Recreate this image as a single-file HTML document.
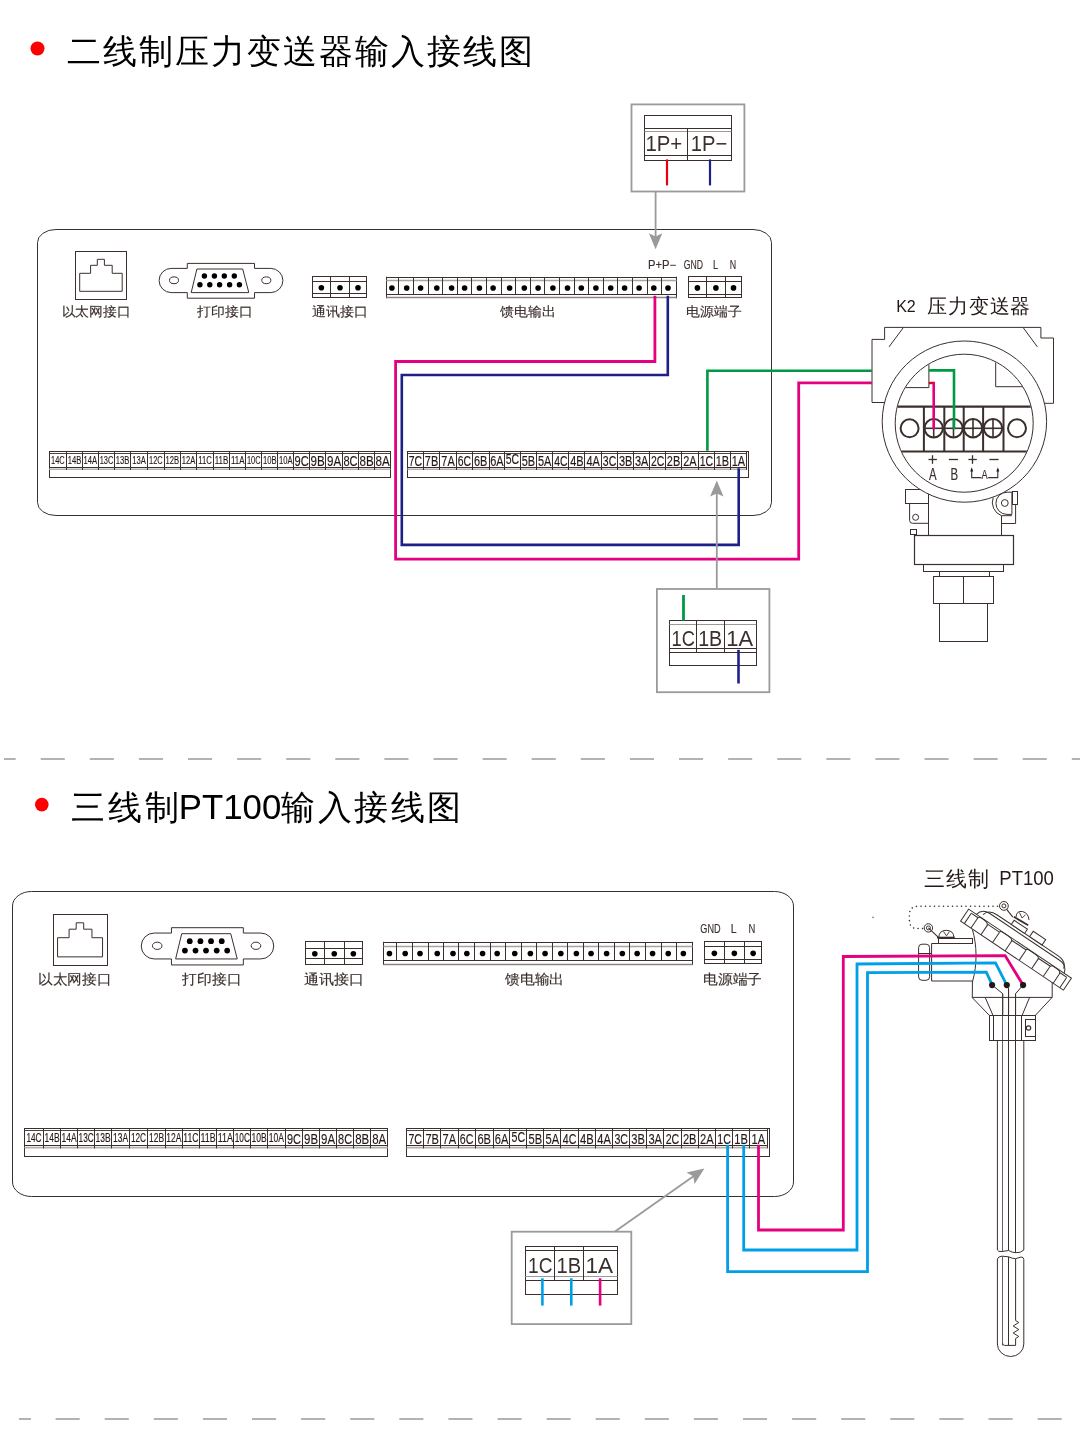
<!DOCTYPE html>
<html><head><meta charset="utf-8"><style>
html,body{margin:0;padding:0;background:#fff;}
svg{display:block;font-family:"Liberation Sans",sans-serif;}
</style></head><body>
<svg style="will-change:transform" width="1080" height="1444" viewBox="0 0 1080 1444" shape-rendering="geometricPrecision">
<circle cx="37.5" cy="48.5" r="7" fill="#ff0000"/>
<text x="66.5" y="62.9" font-size="34.4" fill="#000" text-anchor="start" textLength="466" lengthAdjust="spacing" >二线制压力变送器输入接线图</text>
<rect x="37.5" y="229.5" width="734" height="286" stroke="#3a2f2d" stroke-width="1" fill="none" rx="18.5" ry="13" />
<rect x="75.5" y="251.5" width="51" height="48" stroke="#3a2f2d" stroke-width="1" fill="none" />
<polygon points="79.7,273.3 90.6,273.3 90.6,265.3 97.3,265.3 97.3,259.3 104.4,259.3 104.4,265.3 112.2,265.3 112.2,273.3 122.2,273.3 122.2,291.3 79.7,291.3" stroke="#3a2f2d" stroke-width="1" fill="none" stroke-linejoin="miter" />
<text x="96" y="316" font-size="13.4" fill="#3a2f2d" text-anchor="middle" textLength="69" lengthAdjust="spacingAndGlyphs" stroke="#3a2f2d" stroke-width="0.15" >以太网接口</text>
<path d="M187.3,268.4 L187.3,263.4 L254.5,263.4 L254.5,268.4 L270.8,268.4 A12.1,12.1 0 0 1 270.8,292.6 L254.5,292.6 L254.5,298.2 L187.3,298.2 L187.3,292.6 L171.2,292.6 A12.1,12.1 0 0 1 171.2,268.4 Z" stroke="#3a2f2d" stroke-width="1" fill="none" />
<polygon points="196.9,269 242.7,269 248.8,292.6 191.2,292.6" stroke="#3a2f2d" stroke-width="1" fill="none" stroke-linejoin="miter" />
<ellipse cx="174" cy="280.3" rx="4.5" ry="3.4" stroke="#3a2f2d" stroke-width="1" fill="none"/>
<ellipse cx="266.3" cy="280.3" rx="4.5" ry="3.4" stroke="#3a2f2d" stroke-width="1" fill="none"/>
<circle cx="204.4" cy="276" r="2.7" fill="#000"/>
<circle cx="214.4" cy="276" r="2.7" fill="#000"/>
<circle cx="224.3" cy="276" r="2.7" fill="#000"/>
<circle cx="234.3" cy="276" r="2.7" fill="#000"/>
<circle cx="199.9" cy="284.8" r="2.7" fill="#000"/>
<circle cx="209.8" cy="284.8" r="2.7" fill="#000"/>
<circle cx="219.6" cy="284.8" r="2.7" fill="#000"/>
<circle cx="229.6" cy="284.8" r="2.7" fill="#000"/>
<circle cx="239.4" cy="284.8" r="2.7" fill="#000"/>
<text x="224.8" y="316" font-size="13.4" fill="#3a2f2d" text-anchor="middle" textLength="55.4" lengthAdjust="spacingAndGlyphs" stroke="#3a2f2d" stroke-width="0.15" >打印接口</text>
<rect x="312.5" y="276.5" width="54" height="21" stroke="#3a2f2d" stroke-width="1" fill="none" />
<line x1="312.3" y1="281.5" x2="366.4" y2="281.5" stroke="#3a2f2d" stroke-width="1" />
<line x1="312.3" y1="293.5" x2="366.4" y2="293.5" stroke="#3a2f2d" stroke-width="1" />
<line x1="330.5" y1="276.6" x2="330.5" y2="297.3" stroke="#3a2f2d" stroke-width="1" />
<line x1="349.5" y1="276.6" x2="349.5" y2="297.3" stroke="#3a2f2d" stroke-width="1" />
<circle cx="321.35" cy="287.7" r="2.8" fill="#000"/>
<circle cx="340" cy="287.7" r="2.8" fill="#000"/>
<circle cx="358" cy="287.7" r="2.8" fill="#000"/>
<text x="340" y="316" font-size="13.4" fill="#3a2f2d" text-anchor="middle" textLength="55.9" lengthAdjust="spacingAndGlyphs" stroke="#3a2f2d" stroke-width="0.15" >通讯接口</text>
<line x1="386.3" y1="277.5" x2="676.6" y2="277.5" stroke="#3a2f2d" stroke-width="1" />
<line x1="386.5" y1="276.7" x2="386.5" y2="298.3" stroke="#3a2f2d" stroke-width="1" />
<line x1="676.5" y1="276.7" x2="676.5" y2="298.3" stroke="#3a2f2d" stroke-width="1" />
<line x1="386.3" y1="297.5" x2="676.6" y2="297.5" stroke="#8c8583" stroke-width="1.3" />
<line x1="386.3" y1="280.5" x2="676.6" y2="280.5" stroke="#a9a3a1" stroke-width="1.3" />
<line x1="386.3" y1="294.5" x2="676.6" y2="294.5" stroke="#3a2f2d" stroke-width="1" />
<line x1="398.5" y1="277.2" x2="398.5" y2="294.3" stroke="#3a2f2d" stroke-width="1" />
<line x1="413.5" y1="277.2" x2="413.5" y2="294.3" stroke="#3a2f2d" stroke-width="1" />
<line x1="428.5" y1="277.2" x2="428.5" y2="294.3" stroke="#3a2f2d" stroke-width="1" />
<line x1="442.5" y1="277.2" x2="442.5" y2="294.3" stroke="#3a2f2d" stroke-width="1" />
<line x1="457.5" y1="277.2" x2="457.5" y2="294.3" stroke="#3a2f2d" stroke-width="1" />
<line x1="471.5" y1="277.2" x2="471.5" y2="294.3" stroke="#3a2f2d" stroke-width="1" />
<line x1="486.5" y1="277.2" x2="486.5" y2="294.3" stroke="#3a2f2d" stroke-width="1" />
<line x1="501.5" y1="277.2" x2="501.5" y2="294.3" stroke="#3a2f2d" stroke-width="1" />
<line x1="515.5" y1="277.2" x2="515.5" y2="294.3" stroke="#3a2f2d" stroke-width="1" />
<line x1="530.5" y1="277.2" x2="530.5" y2="294.3" stroke="#3a2f2d" stroke-width="1" />
<line x1="544.5" y1="277.2" x2="544.5" y2="294.3" stroke="#3a2f2d" stroke-width="1" />
<line x1="559.5" y1="277.2" x2="559.5" y2="294.3" stroke="#3a2f2d" stroke-width="1" />
<line x1="574.5" y1="277.2" x2="574.5" y2="294.3" stroke="#3a2f2d" stroke-width="1" />
<line x1="588.5" y1="277.2" x2="588.5" y2="294.3" stroke="#3a2f2d" stroke-width="1" />
<line x1="603.5" y1="277.2" x2="603.5" y2="294.3" stroke="#3a2f2d" stroke-width="1" />
<line x1="617.5" y1="277.2" x2="617.5" y2="294.3" stroke="#3a2f2d" stroke-width="1" />
<line x1="632.5" y1="277.2" x2="632.5" y2="294.3" stroke="#3a2f2d" stroke-width="1" />
<line x1="647.5" y1="277.2" x2="647.5" y2="294.3" stroke="#3a2f2d" stroke-width="1" />
<line x1="661.5" y1="277.2" x2="661.5" y2="294.3" stroke="#3a2f2d" stroke-width="1" />
<circle cx="391.9" cy="287.95" r="2.8" fill="#000"/>
<circle cx="406.7" cy="287.95" r="2.8" fill="#000"/>
<circle cx="420.6" cy="287.95" r="2.8" fill="#000"/>
<circle cx="436.8" cy="287.95" r="2.8" fill="#000"/>
<circle cx="451.6" cy="287.95" r="2.8" fill="#000"/>
<circle cx="464.6" cy="287.95" r="2.8" fill="#000"/>
<circle cx="479.4" cy="287.95" r="2.8" fill="#000"/>
<circle cx="493.1" cy="287.95" r="2.8" fill="#000"/>
<circle cx="509.6" cy="287.95" r="2.8" fill="#000"/>
<circle cx="524.3" cy="287.95" r="2.8" fill="#000"/>
<circle cx="538.1" cy="287.95" r="2.8" fill="#000"/>
<circle cx="552.9" cy="287.95" r="2.8" fill="#000"/>
<circle cx="567.5" cy="287.95" r="2.8" fill="#000"/>
<circle cx="581.3" cy="287.95" r="2.8" fill="#000"/>
<circle cx="595.9" cy="287.95" r="2.8" fill="#000"/>
<circle cx="610.7" cy="287.95" r="2.8" fill="#000"/>
<circle cx="624.6" cy="287.95" r="2.8" fill="#000"/>
<circle cx="639.1" cy="287.95" r="2.8" fill="#000"/>
<circle cx="653.8" cy="287.95" r="2.8" fill="#000"/>
<circle cx="668" cy="287.95" r="2.8" fill="#000"/>
<text x="527.8" y="316" font-size="13.4" fill="#3a2f2d" text-anchor="middle" textLength="55.8" lengthAdjust="spacingAndGlyphs" stroke="#3a2f2d" stroke-width="0.15" >馈电输出</text>
<rect x="688.5" y="276.5" width="53" height="21" stroke="#3a2f2d" stroke-width="1" fill="none" />
<line x1="688.4" y1="281.5" x2="741.6" y2="281.5" stroke="#3a2f2d" stroke-width="1" />
<line x1="688.4" y1="294.5" x2="741.6" y2="294.5" stroke="#3a2f2d" stroke-width="1" />
<line x1="706.5" y1="276.7" x2="706.5" y2="297.5" stroke="#3a2f2d" stroke-width="1" />
<line x1="725.5" y1="276.7" x2="725.5" y2="297.5" stroke="#3a2f2d" stroke-width="1" />
<circle cx="697.4" cy="287.9" r="2.8" fill="#000"/>
<circle cx="715.9" cy="287.9" r="2.8" fill="#000"/>
<circle cx="733.5" cy="287.9" r="2.8" fill="#000"/>
<text x="714.2" y="316" font-size="13.4" fill="#3a2f2d" text-anchor="middle" textLength="55.6" lengthAdjust="spacingAndGlyphs" stroke="#3a2f2d" stroke-width="0.15" >电源端子</text>
<text x="648" y="268.7" font-size="12" fill="#3a2f2d" text-anchor="start" textLength="28" lengthAdjust="spacingAndGlyphs" stroke="#3a2f2d" stroke-width="0.15" >P+P−</text>
<text x="683.8" y="268.7" font-size="12" fill="#3a2f2d" text-anchor="start" textLength="19.2" lengthAdjust="spacingAndGlyphs" stroke="#3a2f2d" stroke-width="0.15" >GND</text>
<text x="712.9" y="268.7" font-size="12" fill="#3a2f2d" text-anchor="start" textLength="5.1" lengthAdjust="spacingAndGlyphs" stroke="#3a2f2d" stroke-width="0.15" >L</text>
<text x="729.8" y="268.7" font-size="12" fill="#3a2f2d" text-anchor="start" textLength="6.4" lengthAdjust="spacingAndGlyphs" stroke="#3a2f2d" stroke-width="0.15" >N</text>
<rect x="49.5" y="451.5" width="341" height="26" stroke="#3a2f2d" stroke-width="1" fill="none" />
<line x1="49.2" y1="453.5" x2="390.4" y2="453.5" stroke="#3a2f2d" stroke-width="0.9" />
<line x1="49.2" y1="467.5" x2="390.4" y2="467.5" stroke="#3a2f2d" stroke-width="1" />
<line x1="49.2" y1="469.2" x2="390.4" y2="469.2" stroke="#b5b0ae" stroke-width="1.6" />
<line x1="66.5" y1="451.3" x2="66.5" y2="470" stroke="#3a2f2d" stroke-width="1" />
<line x1="82.5" y1="451.3" x2="82.5" y2="470" stroke="#3a2f2d" stroke-width="1" />
<line x1="98.5" y1="451.3" x2="98.5" y2="470" stroke="#3a2f2d" stroke-width="1" />
<line x1="114.5" y1="451.3" x2="114.5" y2="470" stroke="#3a2f2d" stroke-width="1" />
<line x1="130.5" y1="451.3" x2="130.5" y2="470" stroke="#3a2f2d" stroke-width="1" />
<line x1="147.5" y1="451.3" x2="147.5" y2="470" stroke="#3a2f2d" stroke-width="1" />
<line x1="164.5" y1="451.3" x2="164.5" y2="470" stroke="#3a2f2d" stroke-width="1" />
<line x1="180.5" y1="451.3" x2="180.5" y2="470" stroke="#3a2f2d" stroke-width="1" />
<line x1="196.5" y1="451.3" x2="196.5" y2="470" stroke="#3a2f2d" stroke-width="1" />
<line x1="213.5" y1="451.3" x2="213.5" y2="470" stroke="#3a2f2d" stroke-width="1" />
<line x1="229.5" y1="451.3" x2="229.5" y2="470" stroke="#3a2f2d" stroke-width="1" />
<line x1="245.5" y1="451.3" x2="245.5" y2="470" stroke="#3a2f2d" stroke-width="1" />
<line x1="261.5" y1="451.3" x2="261.5" y2="470" stroke="#3a2f2d" stroke-width="1" />
<line x1="277.5" y1="451.3" x2="277.5" y2="470" stroke="#3a2f2d" stroke-width="1" />
<line x1="293.5" y1="451.3" x2="293.5" y2="470" stroke="#3a2f2d" stroke-width="1" />
<line x1="309.5" y1="451.3" x2="309.5" y2="470" stroke="#3a2f2d" stroke-width="1" />
<line x1="325.5" y1="451.3" x2="325.5" y2="470" stroke="#3a2f2d" stroke-width="1" />
<line x1="342.5" y1="451.3" x2="342.5" y2="470" stroke="#3a2f2d" stroke-width="1" />
<line x1="358.5" y1="451.3" x2="358.5" y2="470" stroke="#3a2f2d" stroke-width="1" />
<line x1="374.5" y1="451.3" x2="374.5" y2="470" stroke="#3a2f2d" stroke-width="1" />
<text x="57.85" y="463.9" font-size="11.7" fill="#231815" text-anchor="middle" textLength="13.6" lengthAdjust="spacingAndGlyphs" stroke="#231815" stroke-width="0.15" >14C</text>
<text x="74.45" y="463.9" font-size="11.7" fill="#231815" text-anchor="middle" textLength="13.6" lengthAdjust="spacingAndGlyphs" stroke="#231815" stroke-width="0.15" >14B</text>
<text x="90.35" y="463.9" font-size="11.7" fill="#231815" text-anchor="middle" textLength="13.6" lengthAdjust="spacingAndGlyphs" stroke="#231815" stroke-width="0.15" >14A</text>
<text x="106.45" y="463.9" font-size="11.7" fill="#231815" text-anchor="middle" textLength="13.6" lengthAdjust="spacingAndGlyphs" stroke="#231815" stroke-width="0.15" >13C</text>
<text x="122.65" y="463.9" font-size="11.7" fill="#231815" text-anchor="middle" textLength="13.6" lengthAdjust="spacingAndGlyphs" stroke="#231815" stroke-width="0.15" >13B</text>
<text x="139.05" y="463.9" font-size="11.7" fill="#231815" text-anchor="middle" textLength="13.6" lengthAdjust="spacingAndGlyphs" stroke="#231815" stroke-width="0.15" >13A</text>
<text x="155.9" y="463.9" font-size="11.7" fill="#231815" text-anchor="middle" textLength="13.6" lengthAdjust="spacingAndGlyphs" stroke="#231815" stroke-width="0.15" >12C</text>
<text x="172.4" y="463.9" font-size="11.7" fill="#231815" text-anchor="middle" textLength="13.6" lengthAdjust="spacingAndGlyphs" stroke="#231815" stroke-width="0.15" >12B</text>
<text x="188.5" y="463.9" font-size="11.7" fill="#231815" text-anchor="middle" textLength="13.6" lengthAdjust="spacingAndGlyphs" stroke="#231815" stroke-width="0.15" >12A</text>
<text x="205" y="463.9" font-size="11.7" fill="#231815" text-anchor="middle" textLength="13.6" lengthAdjust="spacingAndGlyphs" stroke="#231815" stroke-width="0.15" >11C</text>
<text x="221.55" y="463.9" font-size="11.7" fill="#231815" text-anchor="middle" textLength="13.6" lengthAdjust="spacingAndGlyphs" stroke="#231815" stroke-width="0.15" >11B</text>
<text x="237.75" y="463.9" font-size="11.7" fill="#231815" text-anchor="middle" textLength="13.6" lengthAdjust="spacingAndGlyphs" stroke="#231815" stroke-width="0.15" >11A</text>
<text x="253.8" y="463.9" font-size="11.7" fill="#231815" text-anchor="middle" textLength="13.6" lengthAdjust="spacingAndGlyphs" stroke="#231815" stroke-width="0.15" >10C</text>
<text x="269.8" y="463.9" font-size="11.7" fill="#231815" text-anchor="middle" textLength="13.6" lengthAdjust="spacingAndGlyphs" stroke="#231815" stroke-width="0.15" >10B</text>
<text x="285.8" y="463.9" font-size="11.7" fill="#231815" text-anchor="middle" textLength="13.6" lengthAdjust="spacingAndGlyphs" stroke="#231815" stroke-width="0.15" >10A</text>
<text x="301.7" y="465.8" font-size="14" fill="#231815" text-anchor="middle" textLength="14.2" lengthAdjust="spacingAndGlyphs" stroke="#231815" stroke-width="0.15" >9C</text>
<text x="317.6" y="465.8" font-size="14" fill="#231815" text-anchor="middle" textLength="14.2" lengthAdjust="spacingAndGlyphs" stroke="#231815" stroke-width="0.15" >9B</text>
<text x="334.1" y="465.8" font-size="14" fill="#231815" text-anchor="middle" textLength="14.2" lengthAdjust="spacingAndGlyphs" stroke="#231815" stroke-width="0.15" >9A</text>
<text x="350.55" y="465.8" font-size="14" fill="#231815" text-anchor="middle" textLength="14.2" lengthAdjust="spacingAndGlyphs" stroke="#231815" stroke-width="0.15" >8C</text>
<text x="366.65" y="465.8" font-size="14" fill="#231815" text-anchor="middle" textLength="14.2" lengthAdjust="spacingAndGlyphs" stroke="#231815" stroke-width="0.15" >8B</text>
<text x="382.6" y="465.8" font-size="14" fill="#231815" text-anchor="middle" textLength="14.2" lengthAdjust="spacingAndGlyphs" stroke="#231815" stroke-width="0.15" >8A</text>
<rect x="407.5" y="451.5" width="341" height="26" stroke="#3a2f2d" stroke-width="1" fill="none" />
<line x1="407.4" y1="453.5" x2="746.3" y2="453.5" stroke="#3a2f2d" stroke-width="0.9" />
<line x1="407.4" y1="467.5" x2="746.3" y2="467.5" stroke="#3a2f2d" stroke-width="1" />
<line x1="407.4" y1="469.2" x2="746.3" y2="469.2" stroke="#b5b0ae" stroke-width="1.6" />
<line x1="746.5" y1="451.3" x2="746.5" y2="470" stroke="#3a2f2d" stroke-width="1" />
<line x1="423.5" y1="451.3" x2="423.5" y2="470" stroke="#3a2f2d" stroke-width="1" />
<line x1="439.5" y1="451.3" x2="439.5" y2="470" stroke="#3a2f2d" stroke-width="1" />
<line x1="456.5" y1="451.3" x2="456.5" y2="470" stroke="#3a2f2d" stroke-width="1" />
<line x1="472.5" y1="451.3" x2="472.5" y2="470" stroke="#3a2f2d" stroke-width="1" />
<line x1="489.5" y1="451.3" x2="489.5" y2="470" stroke="#3a2f2d" stroke-width="1" />
<line x1="504.5" y1="451.3" x2="504.5" y2="470" stroke="#3a2f2d" stroke-width="1" />
<line x1="520.5" y1="451.3" x2="520.5" y2="470" stroke="#3a2f2d" stroke-width="1" />
<line x1="536.5" y1="451.3" x2="536.5" y2="470" stroke="#3a2f2d" stroke-width="1" />
<line x1="552.5" y1="451.3" x2="552.5" y2="470" stroke="#3a2f2d" stroke-width="1" />
<line x1="568.5" y1="451.3" x2="568.5" y2="470" stroke="#3a2f2d" stroke-width="1" />
<line x1="584.5" y1="451.3" x2="584.5" y2="470" stroke="#3a2f2d" stroke-width="1" />
<line x1="601.5" y1="451.3" x2="601.5" y2="470" stroke="#3a2f2d" stroke-width="1" />
<line x1="617.5" y1="451.3" x2="617.5" y2="470" stroke="#3a2f2d" stroke-width="1" />
<line x1="633.5" y1="451.3" x2="633.5" y2="470" stroke="#3a2f2d" stroke-width="1" />
<line x1="649.5" y1="451.3" x2="649.5" y2="470" stroke="#3a2f2d" stroke-width="1" />
<line x1="665.5" y1="451.3" x2="665.5" y2="470" stroke="#3a2f2d" stroke-width="1" />
<line x1="681.5" y1="451.3" x2="681.5" y2="470" stroke="#3a2f2d" stroke-width="1" />
<line x1="698.5" y1="451.3" x2="698.5" y2="470" stroke="#3a2f2d" stroke-width="1" />
<line x1="714.5" y1="451.3" x2="714.5" y2="470" stroke="#3a2f2d" stroke-width="1" />
<line x1="730.5" y1="451.3" x2="730.5" y2="470" stroke="#3a2f2d" stroke-width="1" />
<text x="415.4" y="465.8" font-size="14" fill="#231815" text-anchor="middle" textLength="13.4" lengthAdjust="spacingAndGlyphs" stroke="#231815" stroke-width="0.15" >7C</text>
<text x="431.5" y="465.8" font-size="14" fill="#231815" text-anchor="middle" textLength="13.4" lengthAdjust="spacingAndGlyphs" stroke="#231815" stroke-width="0.15" >7B</text>
<text x="448.05" y="465.8" font-size="14" fill="#231815" text-anchor="middle" textLength="13.4" lengthAdjust="spacingAndGlyphs" stroke="#231815" stroke-width="0.15" >7A</text>
<text x="464.35" y="465.8" font-size="14" fill="#231815" text-anchor="middle" textLength="13.4" lengthAdjust="spacingAndGlyphs" stroke="#231815" stroke-width="0.15" >6C</text>
<text x="480.7" y="465.8" font-size="14" fill="#231815" text-anchor="middle" textLength="13.4" lengthAdjust="spacingAndGlyphs" stroke="#231815" stroke-width="0.15" >6B</text>
<text x="496.85" y="465.8" font-size="14" fill="#231815" text-anchor="middle" textLength="13.4" lengthAdjust="spacingAndGlyphs" stroke="#231815" stroke-width="0.15" >6A</text>
<text x="512.4" y="463.8" font-size="14" fill="#231815" text-anchor="middle" textLength="13.4" lengthAdjust="spacingAndGlyphs" stroke="#231815" stroke-width="0.15" >5C</text>
<text x="528.35" y="465.8" font-size="14" fill="#231815" text-anchor="middle" textLength="13.4" lengthAdjust="spacingAndGlyphs" stroke="#231815" stroke-width="0.15" >5B</text>
<text x="544.65" y="465.8" font-size="14" fill="#231815" text-anchor="middle" textLength="13.4" lengthAdjust="spacingAndGlyphs" stroke="#231815" stroke-width="0.15" >5A</text>
<text x="560.9" y="465.8" font-size="14" fill="#231815" text-anchor="middle" textLength="13.4" lengthAdjust="spacingAndGlyphs" stroke="#231815" stroke-width="0.15" >4C</text>
<text x="576.9" y="465.8" font-size="14" fill="#231815" text-anchor="middle" textLength="13.4" lengthAdjust="spacingAndGlyphs" stroke="#231815" stroke-width="0.15" >4B</text>
<text x="593.2" y="465.8" font-size="14" fill="#231815" text-anchor="middle" textLength="13.4" lengthAdjust="spacingAndGlyphs" stroke="#231815" stroke-width="0.15" >4A</text>
<text x="609.55" y="465.8" font-size="14" fill="#231815" text-anchor="middle" textLength="13.4" lengthAdjust="spacingAndGlyphs" stroke="#231815" stroke-width="0.15" >3C</text>
<text x="625.6" y="465.8" font-size="14" fill="#231815" text-anchor="middle" textLength="13.4" lengthAdjust="spacingAndGlyphs" stroke="#231815" stroke-width="0.15" >3B</text>
<text x="641.7" y="465.8" font-size="14" fill="#231815" text-anchor="middle" textLength="13.4" lengthAdjust="spacingAndGlyphs" stroke="#231815" stroke-width="0.15" >3A</text>
<text x="657.7" y="465.8" font-size="14" fill="#231815" text-anchor="middle" textLength="13.4" lengthAdjust="spacingAndGlyphs" stroke="#231815" stroke-width="0.15" >2C</text>
<text x="673.55" y="465.8" font-size="14" fill="#231815" text-anchor="middle" textLength="13.4" lengthAdjust="spacingAndGlyphs" stroke="#231815" stroke-width="0.15" >2B</text>
<text x="689.95" y="465.8" font-size="14" fill="#231815" text-anchor="middle" textLength="13.4" lengthAdjust="spacingAndGlyphs" stroke="#231815" stroke-width="0.15" >2A</text>
<text x="706.4" y="465.8" font-size="14" fill="#231815" text-anchor="middle" textLength="13.4" lengthAdjust="spacingAndGlyphs" stroke="#231815" stroke-width="0.15" >1C</text>
<text x="722.4" y="465.8" font-size="14" fill="#231815" text-anchor="middle" textLength="13.4" lengthAdjust="spacingAndGlyphs" stroke="#231815" stroke-width="0.15" >1B</text>
<text x="738.35" y="465.8" font-size="14" fill="#231815" text-anchor="middle" textLength="13.4" lengthAdjust="spacingAndGlyphs" stroke="#231815" stroke-width="0.15" >1A</text>
<rect x="631.5" y="104.4" width="112.9" height="87.1" stroke="#9a9a9a" stroke-width="1.8" fill="none" />
<rect x="644.5" y="115.5" width="87" height="45" stroke="#3a2f2d" stroke-width="1" fill="none" />
<line x1="644.4" y1="128.5" x2="731.5" y2="128.5" stroke="#3a2f2d" stroke-width="1" />
<line x1="644.4" y1="131.5" x2="731.5" y2="131.5" stroke="#9a9a9a" stroke-width="1" />
<line x1="644.4" y1="155.5" x2="731.5" y2="155.5" stroke="#3a2f2d" stroke-width="1" />
<line x1="687.5" y1="128.5" x2="687.5" y2="160.4" stroke="#3a2f2d" stroke-width="1" />
<text x="645.4" y="151.1" font-size="21.4" fill="#3a2f2d" text-anchor="start" textLength="36.8" lengthAdjust="spacingAndGlyphs" >1P+</text>
<text x="690.8" y="151.1" font-size="21.4" fill="#3a2f2d" text-anchor="start" textLength="36.4" lengthAdjust="spacingAndGlyphs" >1P−</text>
<line x1="667" y1="159.4" x2="667" y2="185.4" stroke="#e60012" stroke-width="2.2" />
<line x1="710" y1="159.4" x2="710" y2="185.4" stroke="#1d2088" stroke-width="2.2" />
<line x1="655.6" y1="191.5" x2="655.6" y2="240" stroke="#9a9a9a" stroke-width="1.8" />
<g transform="translate(655.6,249.3) rotate(90)"><path d="M0,0 L-16,-6.7 L-12.8,0 L-16,6.7 Z" fill="#9a9a9a"/></g>
<polyline points="654.9,295.7 654.9,361.5 395.6,361.5 395.6,559.2 798.7,559.2 798.7,382.8 871.7,382.8" stroke="#e4007f" stroke-width="2.8" fill="none" stroke-linejoin="miter" stroke-linecap="butt"/>
<polyline points="667.8,295.7 667.8,375 401.8,375 401.8,544.9 738.7,544.9 738.7,468.2" stroke="#1d2088" stroke-width="2.6" fill="none" stroke-linejoin="miter" stroke-linecap="butt"/>
<polyline points="707.4,450.7 707.4,370.8 871.7,370.8" stroke="#009944" stroke-width="2.6" fill="none" stroke-linejoin="miter" stroke-linecap="butt"/>
<rect x="656.9" y="589" width="112.5" height="103.2" stroke="#9a9a9a" stroke-width="1.8" fill="none" />
<rect x="669.5" y="620.5" width="87" height="45" stroke="#3a2f2d" stroke-width="1" fill="none" />
<line x1="669.5" y1="624.5" x2="756.2" y2="624.5" stroke="#9a9a9a" stroke-width="1" />
<line x1="669.5" y1="648.5" x2="756.2" y2="648.5" stroke="#3a2f2d" stroke-width="1" />
<line x1="669.5" y1="652.5" x2="756.2" y2="652.5" stroke="#3a2f2d" stroke-width="1" />
<line x1="696.5" y1="620.6" x2="696.5" y2="652.2" stroke="#3a2f2d" stroke-width="1" />
<line x1="724.5" y1="620.6" x2="724.5" y2="652.2" stroke="#3a2f2d" stroke-width="1" />
<text x="671.5" y="645.6" font-size="21.8" fill="#3a2f2d" text-anchor="start" textLength="23.4" lengthAdjust="spacingAndGlyphs" >1C</text>
<text x="698.2" y="645.6" font-size="21.8" fill="#3a2f2d" text-anchor="start" textLength="24" lengthAdjust="spacingAndGlyphs" >1B</text>
<text x="726.3" y="645.6" font-size="21.8" fill="#3a2f2d" text-anchor="start" textLength="26.8" lengthAdjust="spacingAndGlyphs" >1A</text>
<line x1="683.5" y1="595" x2="683.5" y2="620.6" stroke="#009944" stroke-width="2.8" />
<line x1="738.5" y1="649.8" x2="738.5" y2="683.5" stroke="#1d2088" stroke-width="2.6" />
<line x1="716.8" y1="589" x2="716.8" y2="492" stroke="#9a9a9a" stroke-width="1.8" />
<g transform="translate(716.8,480.6) rotate(-90)"><path d="M0,0 L-16,-6.7 L-12.8,0 L-16,6.7 Z" fill="#9a9a9a"/></g>
<text x="896.2" y="311.5" font-size="17" fill="#231815" text-anchor="start" textLength="19.6" lengthAdjust="spacingAndGlyphs" >K2</text>
<text x="927.3" y="313.4" font-size="20" fill="#231815" text-anchor="start" textLength="103" lengthAdjust="spacing" >压力变送器</text>
<line x1="928.5" y1="480" x2="928.5" y2="535.6" stroke="#3a2f2d" stroke-width="1" />
<line x1="1001.5" y1="480" x2="1001.5" y2="535.6" stroke="#3a2f2d" stroke-width="1" />
<rect x="905.5" y="489.5" width="23" height="14" stroke="#3a2f2d" stroke-width="1" fill="#fff" />
<path d="M909.6,503.7 L909.6,520.3 Q909.6,523.3 912.6,523.3 L928.1,523.3" stroke="#3a2f2d" stroke-width="1" fill="none" />
<circle cx="915.6" cy="517.3" r="3" stroke="#3a2f2d" stroke-width="1" fill="none"/>
<rect x="910.5" y="529.5" width="6" height="5" stroke="#3a2f2d" stroke-width="1" fill="none" />
<path d="M1001.4,523.5 L1015.6,523.5 L1015.6,504.4" stroke="#3a2f2d" stroke-width="1" fill="none" />
<path d="M993.2,497.5 A14.2,14.2 0 0 0 1001.5,515.7 L1011.9,515.7" stroke="#3a2f2d" stroke-width="1" fill="#fff" />
<path d="M1011.9,492.2 L1007,492.2 A11.1,11.1 0 0 0 1007,514.4 L1011.9,514.4 Z" stroke="#3a2f2d" stroke-width="1" fill="#fff" />
<circle cx="1004.8" cy="503" r="3.4" stroke="#3a2f2d" stroke-width="1" fill="none"/>
<rect x="1012.5" y="491.5" width="5" height="13" stroke="#3a2f2d" stroke-width="1" fill="#fff" />
<rect x="914.5" y="535.5" width="99" height="29" stroke="#3a2f2d" stroke-width="1.2" fill="none" />
<rect x="923.5" y="564.5" width="80" height="7" stroke="#3a2f2d" stroke-width="1" fill="none" />
<rect x="939.5" y="571.5" width="50" height="5" stroke="#3a2f2d" stroke-width="1" fill="none" />
<rect x="933.5" y="576.5" width="60" height="27" stroke="#3a2f2d" stroke-width="1" fill="none" />
<line x1="963.5" y1="576.3" x2="963.5" y2="603" stroke="#3a2f2d" stroke-width="1" />
<rect x="939.5" y="603.5" width="48" height="38" stroke="#3a2f2d" stroke-width="1" fill="none" />
<polyline points="872,402.4 872,339.4 884.6,339.4 884.6,327.4 1040.9,327.4 1040.9,338 1053.5,338 1053.5,403.3 1040,403.3" stroke="#3a2f2d" stroke-width="1" fill="#fff" stroke-linejoin="miter" />
<line x1="872" y1="402.5" x2="886" y2="402.5" stroke="#3a2f2d" stroke-width="1" />
<line x1="903.5" y1="327.4" x2="889" y2="346.9" stroke="#3a2f2d" stroke-width="1" />
<line x1="1023" y1="327.4" x2="1037.4" y2="346.9" stroke="#3a2f2d" stroke-width="1" />
<ellipse cx="964.4" cy="421.6" rx="82.2" ry="80.6" stroke="#3a2f2d" stroke-width="1" fill="#fff"/>
<circle cx="964.2" cy="423.2" r="69" stroke="#3a2f2d" stroke-width="1" fill="#fff"/>
<clipPath id="ic"><circle cx="964.2" cy="423.2" r="68.5"/></clipPath>
<g clip-path="url(#ic)">
<polyline points="928.9,364.4 928.9,387.6 895,387.6" stroke="#3a2f2d" stroke-width="1" fill="none" stroke-linejoin="miter" />
<polyline points="995.7,361.7 995.7,386.7 1035,386.7" stroke="#3a2f2d" stroke-width="1" fill="none" stroke-linejoin="miter" />
<line x1="890" y1="406.7" x2="1040" y2="406.7" stroke="#3a2f2d" stroke-width="2.2" />
<line x1="890" y1="451.5" x2="1040" y2="451.5" stroke="#3a2f2d" stroke-width="2.2" />
<line x1="923.9" y1="406.7" x2="923.9" y2="451.5" stroke="#3a2f2d" stroke-width="2" />
<line x1="944.3" y1="406.7" x2="944.3" y2="451.5" stroke="#3a2f2d" stroke-width="2" />
<line x1="963.7" y1="406.7" x2="963.7" y2="451.5" stroke="#3a2f2d" stroke-width="2" />
<line x1="983.1" y1="406.7" x2="983.1" y2="451.5" stroke="#3a2f2d" stroke-width="2" />
<line x1="1003.5" y1="406.7" x2="1003.5" y2="451.5" stroke="#3a2f2d" stroke-width="2" />
</g>
<circle cx="933.7" cy="428.3" r="9.2" stroke="#3a2f2d" stroke-width="2" fill="#fff"/>
<line x1="924.5" y1="428.3" x2="942.9" y2="428.3" stroke="#3a2f2d" stroke-width="1.6" />
<line x1="933.7" y1="419.1" x2="933.7" y2="437.5" stroke="#3a2f2d" stroke-width="1.6" />
<circle cx="953.5" cy="428.3" r="9.2" stroke="#3a2f2d" stroke-width="2" fill="#fff"/>
<line x1="944.3" y1="428.3" x2="962.7" y2="428.3" stroke="#3a2f2d" stroke-width="1.6" />
<line x1="953.5" y1="419.1" x2="953.5" y2="437.5" stroke="#3a2f2d" stroke-width="1.6" />
<circle cx="973" cy="428.3" r="9.2" stroke="#3a2f2d" stroke-width="2" fill="#fff"/>
<line x1="963.8" y1="428.3" x2="982.2" y2="428.3" stroke="#3a2f2d" stroke-width="1.6" />
<line x1="973" y1="419.1" x2="973" y2="437.5" stroke="#3a2f2d" stroke-width="1.6" />
<circle cx="993" cy="428.3" r="9.2" stroke="#3a2f2d" stroke-width="2" fill="#fff"/>
<line x1="983.8" y1="428.3" x2="1002.2" y2="428.3" stroke="#3a2f2d" stroke-width="1.6" />
<line x1="993" y1="419.1" x2="993" y2="437.5" stroke="#3a2f2d" stroke-width="1.6" />
<circle cx="909.6" cy="428.3" r="9" stroke="#3a2f2d" stroke-width="2" fill="#fff"/>
<circle cx="1017" cy="428.3" r="9" stroke="#3a2f2d" stroke-width="2" fill="#fff"/>
<line x1="928.9" y1="383" x2="934" y2="383" stroke="#e60012" stroke-width="2.4" />
<polyline points="933.7,381.8 933.7,429.3" stroke="#e4007f" stroke-width="2.6" fill="none" stroke-linejoin="miter" stroke-linecap="butt"/>
<polyline points="928.9,370.4 954,370.4 954,429.3" stroke="#009944" stroke-width="2.6" fill="none" stroke-linejoin="miter" stroke-linecap="butt"/>
<line x1="928.5" y1="459.5" x2="936.9" y2="459.5" stroke="#3a2f2d" stroke-width="1.3" />
<line x1="932.5" y1="455.2" x2="932.5" y2="463.8" stroke="#3a2f2d" stroke-width="1.3" />
<line x1="968.4" y1="459.5" x2="976.8" y2="459.5" stroke="#3a2f2d" stroke-width="1.3" />
<line x1="972.5" y1="455.2" x2="972.5" y2="463.8" stroke="#3a2f2d" stroke-width="1.3" />
<line x1="948.8" y1="459.5" x2="958" y2="459.5" stroke="#3a2f2d" stroke-width="1.3" />
<line x1="989.4" y1="459.5" x2="998.6" y2="459.5" stroke="#3a2f2d" stroke-width="1.3" />
<text x="932.8" y="479.8" font-size="16" fill="#3a2f2d" text-anchor="middle" textLength="7.6" lengthAdjust="spacingAndGlyphs" stroke="#3a2f2d" stroke-width="0.15" >A</text>
<text x="954.4" y="479.8" font-size="16" fill="#3a2f2d" text-anchor="middle" textLength="7.6" lengthAdjust="spacingAndGlyphs" stroke="#3a2f2d" stroke-width="0.15" >B</text>
<text x="984.7" y="479.4" font-size="13.6" fill="#3a2f2d" text-anchor="middle" textLength="6.2" lengthAdjust="spacingAndGlyphs" stroke="#3a2f2d" stroke-width="0.15" >A</text>
<polyline points="971.7,469.5 971.7,477.6 981.3,477.6" stroke="#3a2f2d" stroke-width="1.1" fill="none" stroke-linejoin="miter" />
<polyline points="988.2,477.6 997.8,477.6 997.8,469.5" stroke="#3a2f2d" stroke-width="1.1" fill="none" stroke-linejoin="miter" />
<path d="M970.2,471.5 L971.7,467.2 L973.2,471.5 Z" fill="#231815"/>
<path d="M996.3,471.5 L997.8,467.2 L999.3,471.5 Z" fill="#231815"/>
<line x1="4" y1="759" x2="15.7" y2="759" stroke="#a0a0a0" stroke-width="1.6" />
<line x1="40.7" y1="759" x2="64.8" y2="759" stroke="#a0a0a0" stroke-width="1.6" />
<line x1="89.8" y1="759" x2="113.9" y2="759" stroke="#a0a0a0" stroke-width="1.6" />
<line x1="138.9" y1="759" x2="163" y2="759" stroke="#a0a0a0" stroke-width="1.6" />
<line x1="188" y1="759" x2="212.1" y2="759" stroke="#a0a0a0" stroke-width="1.6" />
<line x1="237.1" y1="759" x2="261.2" y2="759" stroke="#a0a0a0" stroke-width="1.6" />
<line x1="286.2" y1="759" x2="310.3" y2="759" stroke="#a0a0a0" stroke-width="1.6" />
<line x1="335.3" y1="759" x2="359.4" y2="759" stroke="#a0a0a0" stroke-width="1.6" />
<line x1="384.4" y1="759" x2="408.5" y2="759" stroke="#a0a0a0" stroke-width="1.6" />
<line x1="433.5" y1="759" x2="457.6" y2="759" stroke="#a0a0a0" stroke-width="1.6" />
<line x1="482.6" y1="759" x2="506.7" y2="759" stroke="#a0a0a0" stroke-width="1.6" />
<line x1="531.7" y1="759" x2="555.8" y2="759" stroke="#a0a0a0" stroke-width="1.6" />
<line x1="580.8" y1="759" x2="604.9" y2="759" stroke="#a0a0a0" stroke-width="1.6" />
<line x1="629.9" y1="759" x2="654" y2="759" stroke="#a0a0a0" stroke-width="1.6" />
<line x1="679" y1="759" x2="703.1" y2="759" stroke="#a0a0a0" stroke-width="1.6" />
<line x1="728.1" y1="759" x2="752.2" y2="759" stroke="#a0a0a0" stroke-width="1.6" />
<line x1="777.2" y1="759" x2="801.3" y2="759" stroke="#a0a0a0" stroke-width="1.6" />
<line x1="826.3" y1="759" x2="850.4" y2="759" stroke="#a0a0a0" stroke-width="1.6" />
<line x1="875.4" y1="759" x2="899.5" y2="759" stroke="#a0a0a0" stroke-width="1.6" />
<line x1="924.5" y1="759" x2="948.6" y2="759" stroke="#a0a0a0" stroke-width="1.6" />
<line x1="973.6" y1="759" x2="997.7" y2="759" stroke="#a0a0a0" stroke-width="1.6" />
<line x1="1022.7" y1="759" x2="1046.8" y2="759" stroke="#a0a0a0" stroke-width="1.6" />
<line x1="1071.8" y1="759" x2="1080" y2="759" stroke="#a0a0a0" stroke-width="1.6" />
<line x1="18.9" y1="1419" x2="30.9" y2="1419" stroke="#a0a0a0" stroke-width="1.6" />
<line x1="55.6" y1="1419" x2="79.7" y2="1419" stroke="#a0a0a0" stroke-width="1.6" />
<line x1="104.7" y1="1419" x2="128.8" y2="1419" stroke="#a0a0a0" stroke-width="1.6" />
<line x1="153.8" y1="1419" x2="177.9" y2="1419" stroke="#a0a0a0" stroke-width="1.6" />
<line x1="202.9" y1="1419" x2="227" y2="1419" stroke="#a0a0a0" stroke-width="1.6" />
<line x1="252" y1="1419" x2="276.1" y2="1419" stroke="#a0a0a0" stroke-width="1.6" />
<line x1="301.1" y1="1419" x2="325.2" y2="1419" stroke="#a0a0a0" stroke-width="1.6" />
<line x1="350.2" y1="1419" x2="374.3" y2="1419" stroke="#a0a0a0" stroke-width="1.6" />
<line x1="399.3" y1="1419" x2="423.4" y2="1419" stroke="#a0a0a0" stroke-width="1.6" />
<line x1="448.4" y1="1419" x2="472.5" y2="1419" stroke="#a0a0a0" stroke-width="1.6" />
<line x1="497.5" y1="1419" x2="521.6" y2="1419" stroke="#a0a0a0" stroke-width="1.6" />
<line x1="546.6" y1="1419" x2="570.7" y2="1419" stroke="#a0a0a0" stroke-width="1.6" />
<line x1="595.7" y1="1419" x2="619.8" y2="1419" stroke="#a0a0a0" stroke-width="1.6" />
<line x1="644.8" y1="1419" x2="668.9" y2="1419" stroke="#a0a0a0" stroke-width="1.6" />
<line x1="693.9" y1="1419" x2="718" y2="1419" stroke="#a0a0a0" stroke-width="1.6" />
<line x1="743" y1="1419" x2="767.1" y2="1419" stroke="#a0a0a0" stroke-width="1.6" />
<line x1="792.1" y1="1419" x2="816.2" y2="1419" stroke="#a0a0a0" stroke-width="1.6" />
<line x1="841.2" y1="1419" x2="865.3" y2="1419" stroke="#a0a0a0" stroke-width="1.6" />
<line x1="890.3" y1="1419" x2="914.4" y2="1419" stroke="#a0a0a0" stroke-width="1.6" />
<line x1="939.4" y1="1419" x2="963.5" y2="1419" stroke="#a0a0a0" stroke-width="1.6" />
<line x1="988.5" y1="1419" x2="1012.6" y2="1419" stroke="#a0a0a0" stroke-width="1.6" />
<line x1="1037.6" y1="1419" x2="1061.7" y2="1419" stroke="#a0a0a0" stroke-width="1.6" />
<circle cx="41.8" cy="804.6" r="6.8" fill="#ff0000"/>
<text x="71" y="818.75" font-size="34.2" fill="#000" text-anchor="start" textLength="108" lengthAdjust="spacing" >三线制</text>
<text x="178.8" y="818.75" font-size="34.2" fill="#000" text-anchor="start" textLength="102.5" lengthAdjust="spacingAndGlyphs" >PT100</text>
<text x="281.3" y="818.75" font-size="34.2" fill="#000" text-anchor="start" textLength="180" lengthAdjust="spacing" >输入接线图</text>
<rect x="12.5" y="891.5" width="781" height="305" stroke="#3a2f2d" stroke-width="1" fill="none" rx="19" ry="14.5" />
<rect x="53.5" y="914.5" width="54" height="51" stroke="#3a2f2d" stroke-width="1" fill="none" />
<polygon points="57.55,937.71 69.09,937.71 69.09,929.19 76.18,929.19 76.18,922.8 83.7,922.8 83.7,929.19 91.96,929.19 91.96,937.71 102.55,937.71 102.55,956.87 57.55,956.87" stroke="#3a2f2d" stroke-width="1" fill="none" stroke-linejoin="miter" />
<text x="74.7" y="984" font-size="14" fill="#3a2f2d" text-anchor="middle" textLength="73.3" lengthAdjust="spacingAndGlyphs" stroke="#3a2f2d" stroke-width="0.15" >以太网接口</text>
<path d="M171.44,933.05 L171.44,927.7 L243.34,927.7 L243.34,933.05 L260.79,933.05 A12.95,12.95 0 0 1 260.79,958.95 L243.34,958.95 L243.34,964.94 L171.44,964.94 L171.44,958.95 L154.21,958.95 A12.95,12.95 0 0 1 154.21,933.05 Z" stroke="#3a2f2d" stroke-width="1" fill="none" />
<polygon points="181.71,933.7 230.72,933.7 237.25,958.95 175.61,958.95" stroke="#3a2f2d" stroke-width="1" fill="none" stroke-linejoin="miter" />
<ellipse cx="157.21" cy="945.79" rx="4.82" ry="3.64" stroke="#3a2f2d" stroke-width="1" fill="none"/>
<ellipse cx="255.97" cy="945.79" rx="4.82" ry="3.64" stroke="#3a2f2d" stroke-width="1" fill="none"/>
<circle cx="189.74" cy="941.18" r="2.89" fill="#000"/>
<circle cx="200.44" cy="941.18" r="2.89" fill="#000"/>
<circle cx="211.03" cy="941.18" r="2.89" fill="#000"/>
<circle cx="221.73" cy="941.18" r="2.89" fill="#000"/>
<circle cx="184.92" cy="950.6" r="2.89" fill="#000"/>
<circle cx="195.52" cy="950.6" r="2.89" fill="#000"/>
<circle cx="206" cy="950.6" r="2.89" fill="#000"/>
<circle cx="216.7" cy="950.6" r="2.89" fill="#000"/>
<circle cx="227.19" cy="950.6" r="2.89" fill="#000"/>
<text x="211.8" y="984" font-size="14" fill="#3a2f2d" text-anchor="middle" textLength="59" lengthAdjust="spacingAndGlyphs" stroke="#3a2f2d" stroke-width="0.15" >打印接口</text>
<rect x="305.5" y="941.5" width="57" height="23" stroke="#3a2f2d" stroke-width="1" fill="none" />
<line x1="305.2" y1="948.5" x2="362.6" y2="948.5" stroke="#3a2f2d" stroke-width="1" />
<line x1="305.2" y1="958.5" x2="362.6" y2="958.5" stroke="#3a2f2d" stroke-width="1" />
<line x1="324.5" y1="941.3" x2="324.5" y2="964.4" stroke="#3a2f2d" stroke-width="1" />
<line x1="344.5" y1="941.3" x2="344.5" y2="964.4" stroke="#3a2f2d" stroke-width="1" />
<circle cx="314.8" cy="953.8" r="2.8" fill="#000"/>
<circle cx="334.25" cy="953.8" r="2.8" fill="#000"/>
<circle cx="353.35" cy="953.8" r="2.8" fill="#000"/>
<text x="334.3" y="984" font-size="14" fill="#3a2f2d" text-anchor="middle" textLength="60.1" lengthAdjust="spacingAndGlyphs" stroke="#3a2f2d" stroke-width="0.15" >通讯接口</text>
<line x1="383.5" y1="942.5" x2="692.5" y2="942.5" stroke="#3a2f2d" stroke-width="1" />
<line x1="383.5" y1="941.8" x2="383.5" y2="965" stroke="#3a2f2d" stroke-width="1" />
<line x1="692.5" y1="941.8" x2="692.5" y2="965" stroke="#3a2f2d" stroke-width="1" />
<line x1="383.5" y1="964.5" x2="692.5" y2="964.5" stroke="#8c8583" stroke-width="1.3" />
<line x1="383.5" y1="946.5" x2="692.5" y2="946.5" stroke="#a9a3a1" stroke-width="1.3" />
<line x1="383.5" y1="960.5" x2="692.5" y2="960.5" stroke="#3a2f2d" stroke-width="1" />
<line x1="396.5" y1="942.3" x2="396.5" y2="960.1" stroke="#3a2f2d" stroke-width="1" />
<line x1="412.5" y1="942.3" x2="412.5" y2="960.1" stroke="#3a2f2d" stroke-width="1" />
<line x1="428.5" y1="942.3" x2="428.5" y2="960.1" stroke="#3a2f2d" stroke-width="1" />
<line x1="443.5" y1="942.3" x2="443.5" y2="960.1" stroke="#3a2f2d" stroke-width="1" />
<line x1="458.5" y1="942.3" x2="458.5" y2="960.1" stroke="#3a2f2d" stroke-width="1" />
<line x1="474.5" y1="942.3" x2="474.5" y2="960.1" stroke="#3a2f2d" stroke-width="1" />
<line x1="490.5" y1="942.3" x2="490.5" y2="960.1" stroke="#3a2f2d" stroke-width="1" />
<line x1="505.5" y1="942.3" x2="505.5" y2="960.1" stroke="#3a2f2d" stroke-width="1" />
<line x1="521.5" y1="942.3" x2="521.5" y2="960.1" stroke="#3a2f2d" stroke-width="1" />
<line x1="536.5" y1="942.3" x2="536.5" y2="960.1" stroke="#3a2f2d" stroke-width="1" />
<line x1="552.5" y1="942.3" x2="552.5" y2="960.1" stroke="#3a2f2d" stroke-width="1" />
<line x1="567.5" y1="942.3" x2="567.5" y2="960.1" stroke="#3a2f2d" stroke-width="1" />
<line x1="583.5" y1="942.3" x2="583.5" y2="960.1" stroke="#3a2f2d" stroke-width="1" />
<line x1="598.5" y1="942.3" x2="598.5" y2="960.1" stroke="#3a2f2d" stroke-width="1" />
<line x1="614.5" y1="942.3" x2="614.5" y2="960.1" stroke="#3a2f2d" stroke-width="1" />
<line x1="629.5" y1="942.3" x2="629.5" y2="960.1" stroke="#3a2f2d" stroke-width="1" />
<line x1="645.5" y1="942.3" x2="645.5" y2="960.1" stroke="#3a2f2d" stroke-width="1" />
<line x1="661.5" y1="942.3" x2="661.5" y2="960.1" stroke="#3a2f2d" stroke-width="1" />
<line x1="676.5" y1="942.3" x2="676.5" y2="960.1" stroke="#3a2f2d" stroke-width="1" />
<circle cx="389.46" cy="953.55" r="2.8" fill="#000"/>
<circle cx="405.21" cy="953.55" r="2.8" fill="#000"/>
<circle cx="420.01" cy="953.55" r="2.8" fill="#000"/>
<circle cx="437.25" cy="953.55" r="2.8" fill="#000"/>
<circle cx="453.01" cy="953.55" r="2.8" fill="#000"/>
<circle cx="466.84" cy="953.55" r="2.8" fill="#000"/>
<circle cx="482.6" cy="953.55" r="2.8" fill="#000"/>
<circle cx="497.18" cy="953.55" r="2.8" fill="#000"/>
<circle cx="514.74" cy="953.55" r="2.8" fill="#000"/>
<circle cx="530.39" cy="953.55" r="2.8" fill="#000"/>
<circle cx="545.08" cy="953.55" r="2.8" fill="#000"/>
<circle cx="560.83" cy="953.55" r="2.8" fill="#000"/>
<circle cx="576.37" cy="953.55" r="2.8" fill="#000"/>
<circle cx="591.06" cy="953.55" r="2.8" fill="#000"/>
<circle cx="606.6" cy="953.55" r="2.8" fill="#000"/>
<circle cx="622.35" cy="953.55" r="2.8" fill="#000"/>
<circle cx="637.15" cy="953.55" r="2.8" fill="#000"/>
<circle cx="652.58" cy="953.55" r="2.8" fill="#000"/>
<circle cx="668.23" cy="953.55" r="2.8" fill="#000"/>
<circle cx="683.35" cy="953.55" r="2.8" fill="#000"/>
<text x="534.6" y="984" font-size="14" fill="#3a2f2d" text-anchor="middle" textLength="59.6" lengthAdjust="spacingAndGlyphs" stroke="#3a2f2d" stroke-width="0.15" >馈电输出</text>
<rect x="704.5" y="941.5" width="57" height="22" stroke="#3a2f2d" stroke-width="1" fill="none" />
<line x1="704.4" y1="946.5" x2="761.9" y2="946.5" stroke="#3a2f2d" stroke-width="1" />
<line x1="704.4" y1="959.5" x2="761.9" y2="959.5" stroke="#3a2f2d" stroke-width="1" />
<line x1="724.5" y1="941.8" x2="724.5" y2="963.8" stroke="#3a2f2d" stroke-width="1" />
<line x1="744.5" y1="941.8" x2="744.5" y2="963.8" stroke="#3a2f2d" stroke-width="1" />
<circle cx="714.35" cy="953.35" r="2.8" fill="#000"/>
<circle cx="734.35" cy="953.35" r="2.8" fill="#000"/>
<circle cx="753.15" cy="953.35" r="2.8" fill="#000"/>
<text x="732.7" y="984" font-size="14" fill="#3a2f2d" text-anchor="middle" textLength="59" lengthAdjust="spacingAndGlyphs" stroke="#3a2f2d" stroke-width="0.15" >电源端子</text>
<text x="700.3" y="932.7" font-size="12.8" fill="#3a2f2d" text-anchor="start" textLength="20.3" lengthAdjust="spacingAndGlyphs" stroke="#3a2f2d" stroke-width="0.15" >GND</text>
<text x="730.7" y="932.7" font-size="12.8" fill="#3a2f2d" text-anchor="start" textLength="5.9" lengthAdjust="spacingAndGlyphs" stroke="#3a2f2d" stroke-width="0.15" >L</text>
<text x="748.6" y="932.7" font-size="12.8" fill="#3a2f2d" text-anchor="start" textLength="6.8" lengthAdjust="spacingAndGlyphs" stroke="#3a2f2d" stroke-width="0.15" >N</text>
<rect x="24.5" y="1128.5" width="363" height="28" stroke="#3a2f2d" stroke-width="1" fill="none" />
<line x1="24.6" y1="1130.5" x2="387.7" y2="1130.5" stroke="#3a2f2d" stroke-width="0.9" />
<line x1="24.6" y1="1145.5" x2="387.7" y2="1145.5" stroke="#3a2f2d" stroke-width="1" />
<line x1="24.6" y1="1147.6" x2="387.7" y2="1147.6" stroke="#b5b0ae" stroke-width="1.6" />
<line x1="43.5" y1="1128.1" x2="43.5" y2="1148.4" stroke="#3a2f2d" stroke-width="1" />
<line x1="60.5" y1="1128.1" x2="60.5" y2="1148.4" stroke="#3a2f2d" stroke-width="1" />
<line x1="77.5" y1="1128.1" x2="77.5" y2="1148.4" stroke="#3a2f2d" stroke-width="1" />
<line x1="94.5" y1="1128.1" x2="94.5" y2="1148.4" stroke="#3a2f2d" stroke-width="1" />
<line x1="111.5" y1="1128.1" x2="111.5" y2="1148.4" stroke="#3a2f2d" stroke-width="1" />
<line x1="129.5" y1="1128.1" x2="129.5" y2="1148.4" stroke="#3a2f2d" stroke-width="1" />
<line x1="147.5" y1="1128.1" x2="147.5" y2="1148.4" stroke="#3a2f2d" stroke-width="1" />
<line x1="165.5" y1="1128.1" x2="165.5" y2="1148.4" stroke="#3a2f2d" stroke-width="1" />
<line x1="182.5" y1="1128.1" x2="182.5" y2="1148.4" stroke="#3a2f2d" stroke-width="1" />
<line x1="199.5" y1="1128.1" x2="199.5" y2="1148.4" stroke="#3a2f2d" stroke-width="1" />
<line x1="216.5" y1="1128.1" x2="216.5" y2="1148.4" stroke="#3a2f2d" stroke-width="1" />
<line x1="233.5" y1="1128.1" x2="233.5" y2="1148.4" stroke="#3a2f2d" stroke-width="1" />
<line x1="250.5" y1="1128.1" x2="250.5" y2="1148.4" stroke="#3a2f2d" stroke-width="1" />
<line x1="267.5" y1="1128.1" x2="267.5" y2="1148.4" stroke="#3a2f2d" stroke-width="1" />
<line x1="285.5" y1="1128.1" x2="285.5" y2="1148.4" stroke="#3a2f2d" stroke-width="1" />
<line x1="302.5" y1="1128.1" x2="302.5" y2="1148.4" stroke="#3a2f2d" stroke-width="1" />
<line x1="319.5" y1="1128.1" x2="319.5" y2="1148.4" stroke="#3a2f2d" stroke-width="1" />
<line x1="336.5" y1="1128.1" x2="336.5" y2="1148.4" stroke="#3a2f2d" stroke-width="1" />
<line x1="353.5" y1="1128.1" x2="353.5" y2="1148.4" stroke="#3a2f2d" stroke-width="1" />
<line x1="370.5" y1="1128.1" x2="370.5" y2="1148.4" stroke="#3a2f2d" stroke-width="1" />
<text x="34" y="1141.9" font-size="11.9" fill="#231815" text-anchor="middle" textLength="15.2" lengthAdjust="spacingAndGlyphs" stroke="#231815" stroke-width="0.15" >14C</text>
<text x="52" y="1141.9" font-size="11.9" fill="#231815" text-anchor="middle" textLength="15.2" lengthAdjust="spacingAndGlyphs" stroke="#231815" stroke-width="0.15" >14B</text>
<text x="69.15" y="1141.9" font-size="11.9" fill="#231815" text-anchor="middle" textLength="15.2" lengthAdjust="spacingAndGlyphs" stroke="#231815" stroke-width="0.15" >14A</text>
<text x="86.2" y="1141.9" font-size="11.9" fill="#231815" text-anchor="middle" textLength="15.2" lengthAdjust="spacingAndGlyphs" stroke="#231815" stroke-width="0.15" >13C</text>
<text x="103.2" y="1141.9" font-size="11.9" fill="#231815" text-anchor="middle" textLength="15.2" lengthAdjust="spacingAndGlyphs" stroke="#231815" stroke-width="0.15" >13B</text>
<text x="120.55" y="1141.9" font-size="11.9" fill="#231815" text-anchor="middle" textLength="15.2" lengthAdjust="spacingAndGlyphs" stroke="#231815" stroke-width="0.15" >13A</text>
<text x="138.5" y="1141.9" font-size="11.9" fill="#231815" text-anchor="middle" textLength="15.2" lengthAdjust="spacingAndGlyphs" stroke="#231815" stroke-width="0.15" >12C</text>
<text x="156.55" y="1141.9" font-size="11.9" fill="#231815" text-anchor="middle" textLength="15.2" lengthAdjust="spacingAndGlyphs" stroke="#231815" stroke-width="0.15" >12B</text>
<text x="173.9" y="1141.9" font-size="11.9" fill="#231815" text-anchor="middle" textLength="15.2" lengthAdjust="spacingAndGlyphs" stroke="#231815" stroke-width="0.15" >12A</text>
<text x="190.9" y="1141.9" font-size="11.9" fill="#231815" text-anchor="middle" textLength="15.2" lengthAdjust="spacingAndGlyphs" stroke="#231815" stroke-width="0.15" >11C</text>
<text x="208.05" y="1141.9" font-size="11.9" fill="#231815" text-anchor="middle" textLength="15.2" lengthAdjust="spacingAndGlyphs" stroke="#231815" stroke-width="0.15" >11B</text>
<text x="225.25" y="1141.9" font-size="11.9" fill="#231815" text-anchor="middle" textLength="15.2" lengthAdjust="spacingAndGlyphs" stroke="#231815" stroke-width="0.15" >11A</text>
<text x="242.3" y="1141.9" font-size="11.9" fill="#231815" text-anchor="middle" textLength="15.2" lengthAdjust="spacingAndGlyphs" stroke="#231815" stroke-width="0.15" >10C</text>
<text x="259.15" y="1141.9" font-size="11.9" fill="#231815" text-anchor="middle" textLength="15.2" lengthAdjust="spacingAndGlyphs" stroke="#231815" stroke-width="0.15" >10B</text>
<text x="276.45" y="1141.9" font-size="11.9" fill="#231815" text-anchor="middle" textLength="15.2" lengthAdjust="spacingAndGlyphs" stroke="#231815" stroke-width="0.15" >10A</text>
<text x="293.9" y="1144.1" font-size="15" fill="#231815" text-anchor="middle" textLength="14" lengthAdjust="spacingAndGlyphs" stroke="#231815" stroke-width="0.15" >9C</text>
<text x="311.05" y="1144.1" font-size="15" fill="#231815" text-anchor="middle" textLength="14" lengthAdjust="spacingAndGlyphs" stroke="#231815" stroke-width="0.15" >9B</text>
<text x="328.1" y="1144.1" font-size="15" fill="#231815" text-anchor="middle" textLength="14" lengthAdjust="spacingAndGlyphs" stroke="#231815" stroke-width="0.15" >9A</text>
<text x="345.1" y="1144.1" font-size="15" fill="#231815" text-anchor="middle" textLength="14" lengthAdjust="spacingAndGlyphs" stroke="#231815" stroke-width="0.15" >8C</text>
<text x="362.15" y="1144.1" font-size="15" fill="#231815" text-anchor="middle" textLength="14" lengthAdjust="spacingAndGlyphs" stroke="#231815" stroke-width="0.15" >8B</text>
<text x="379.2" y="1144.1" font-size="15" fill="#231815" text-anchor="middle" textLength="14" lengthAdjust="spacingAndGlyphs" stroke="#231815" stroke-width="0.15" >8A</text>
<rect x="406.5" y="1128.5" width="363" height="28" stroke="#3a2f2d" stroke-width="1" fill="none" />
<line x1="406.7" y1="1130.5" x2="767.1" y2="1130.5" stroke="#3a2f2d" stroke-width="0.9" />
<line x1="406.7" y1="1145.5" x2="767.1" y2="1145.5" stroke="#3a2f2d" stroke-width="1" />
<line x1="406.7" y1="1147.6" x2="767.1" y2="1147.6" stroke="#b5b0ae" stroke-width="1.6" />
<line x1="767.5" y1="1128.3" x2="767.5" y2="1148.4" stroke="#3a2f2d" stroke-width="1" />
<line x1="423.5" y1="1128.3" x2="423.5" y2="1148.4" stroke="#3a2f2d" stroke-width="1" />
<line x1="440.5" y1="1128.3" x2="440.5" y2="1148.4" stroke="#3a2f2d" stroke-width="1" />
<line x1="458.5" y1="1128.3" x2="458.5" y2="1148.4" stroke="#3a2f2d" stroke-width="1" />
<line x1="475.5" y1="1128.3" x2="475.5" y2="1148.4" stroke="#3a2f2d" stroke-width="1" />
<line x1="493.5" y1="1128.3" x2="493.5" y2="1148.4" stroke="#3a2f2d" stroke-width="1" />
<line x1="509.5" y1="1128.3" x2="509.5" y2="1148.4" stroke="#3a2f2d" stroke-width="1" />
<line x1="526.5" y1="1128.3" x2="526.5" y2="1148.4" stroke="#3a2f2d" stroke-width="1" />
<line x1="543.5" y1="1128.3" x2="543.5" y2="1148.4" stroke="#3a2f2d" stroke-width="1" />
<line x1="560.5" y1="1128.3" x2="560.5" y2="1148.4" stroke="#3a2f2d" stroke-width="1" />
<line x1="578.5" y1="1128.3" x2="578.5" y2="1148.4" stroke="#3a2f2d" stroke-width="1" />
<line x1="595.5" y1="1128.3" x2="595.5" y2="1148.4" stroke="#3a2f2d" stroke-width="1" />
<line x1="612.5" y1="1128.3" x2="612.5" y2="1148.4" stroke="#3a2f2d" stroke-width="1" />
<line x1="629.5" y1="1128.3" x2="629.5" y2="1148.4" stroke="#3a2f2d" stroke-width="1" />
<line x1="646.5" y1="1128.3" x2="646.5" y2="1148.4" stroke="#3a2f2d" stroke-width="1" />
<line x1="663.5" y1="1128.3" x2="663.5" y2="1148.4" stroke="#3a2f2d" stroke-width="1" />
<line x1="681.5" y1="1128.3" x2="681.5" y2="1148.4" stroke="#3a2f2d" stroke-width="1" />
<line x1="698.5" y1="1128.3" x2="698.5" y2="1148.4" stroke="#3a2f2d" stroke-width="1" />
<line x1="715.5" y1="1128.3" x2="715.5" y2="1148.4" stroke="#3a2f2d" stroke-width="1" />
<line x1="732.5" y1="1128.3" x2="732.5" y2="1148.4" stroke="#3a2f2d" stroke-width="1" />
<line x1="749.5" y1="1128.3" x2="749.5" y2="1148.4" stroke="#3a2f2d" stroke-width="1" />
<text x="415.25" y="1144.1" font-size="15" fill="#231815" text-anchor="middle" textLength="13.6" lengthAdjust="spacingAndGlyphs" stroke="#231815" stroke-width="0.15" >7C</text>
<text x="432.2" y="1144.1" font-size="15" fill="#231815" text-anchor="middle" textLength="13.6" lengthAdjust="spacingAndGlyphs" stroke="#231815" stroke-width="0.15" >7B</text>
<text x="449.4" y="1144.1" font-size="15" fill="#231815" text-anchor="middle" textLength="13.6" lengthAdjust="spacingAndGlyphs" stroke="#231815" stroke-width="0.15" >7A</text>
<text x="466.6" y="1144.1" font-size="15" fill="#231815" text-anchor="middle" textLength="13.6" lengthAdjust="spacingAndGlyphs" stroke="#231815" stroke-width="0.15" >6C</text>
<text x="484.25" y="1144.1" font-size="15" fill="#231815" text-anchor="middle" textLength="13.6" lengthAdjust="spacingAndGlyphs" stroke="#231815" stroke-width="0.15" >6B</text>
<text x="501.6" y="1144.1" font-size="15" fill="#231815" text-anchor="middle" textLength="13.6" lengthAdjust="spacingAndGlyphs" stroke="#231815" stroke-width="0.15" >6A</text>
<text x="518.3" y="1142.1" font-size="15" fill="#231815" text-anchor="middle" textLength="13.6" lengthAdjust="spacingAndGlyphs" stroke="#231815" stroke-width="0.15" >5C</text>
<text x="535.3" y="1144.1" font-size="15" fill="#231815" text-anchor="middle" textLength="13.6" lengthAdjust="spacingAndGlyphs" stroke="#231815" stroke-width="0.15" >5B</text>
<text x="552.3" y="1144.1" font-size="15" fill="#231815" text-anchor="middle" textLength="13.6" lengthAdjust="spacingAndGlyphs" stroke="#231815" stroke-width="0.15" >5A</text>
<text x="569.65" y="1144.1" font-size="15" fill="#231815" text-anchor="middle" textLength="13.6" lengthAdjust="spacingAndGlyphs" stroke="#231815" stroke-width="0.15" >4C</text>
<text x="586.85" y="1144.1" font-size="15" fill="#231815" text-anchor="middle" textLength="13.6" lengthAdjust="spacingAndGlyphs" stroke="#231815" stroke-width="0.15" >4B</text>
<text x="604.05" y="1144.1" font-size="15" fill="#231815" text-anchor="middle" textLength="13.6" lengthAdjust="spacingAndGlyphs" stroke="#231815" stroke-width="0.15" >4A</text>
<text x="621.2" y="1144.1" font-size="15" fill="#231815" text-anchor="middle" textLength="13.6" lengthAdjust="spacingAndGlyphs" stroke="#231815" stroke-width="0.15" >3C</text>
<text x="638.15" y="1144.1" font-size="15" fill="#231815" text-anchor="middle" textLength="13.6" lengthAdjust="spacingAndGlyphs" stroke="#231815" stroke-width="0.15" >3B</text>
<text x="655.25" y="1144.1" font-size="15" fill="#231815" text-anchor="middle" textLength="13.6" lengthAdjust="spacingAndGlyphs" stroke="#231815" stroke-width="0.15" >3A</text>
<text x="672.5" y="1144.1" font-size="15" fill="#231815" text-anchor="middle" textLength="13.6" lengthAdjust="spacingAndGlyphs" stroke="#231815" stroke-width="0.15" >2C</text>
<text x="689.7" y="1144.1" font-size="15" fill="#231815" text-anchor="middle" textLength="13.6" lengthAdjust="spacingAndGlyphs" stroke="#231815" stroke-width="0.15" >2B</text>
<text x="706.9" y="1144.1" font-size="15" fill="#231815" text-anchor="middle" textLength="13.6" lengthAdjust="spacingAndGlyphs" stroke="#231815" stroke-width="0.15" >2A</text>
<text x="724.1" y="1144.1" font-size="15" fill="#231815" text-anchor="middle" textLength="13.6" lengthAdjust="spacingAndGlyphs" stroke="#231815" stroke-width="0.15" >1C</text>
<text x="741.1" y="1144.1" font-size="15" fill="#231815" text-anchor="middle" textLength="13.6" lengthAdjust="spacingAndGlyphs" stroke="#231815" stroke-width="0.15" >1B</text>
<text x="758.35" y="1144.1" font-size="15" fill="#231815" text-anchor="middle" textLength="13.6" lengthAdjust="spacingAndGlyphs" stroke="#231815" stroke-width="0.15" >1A</text>
<line x1="614.7" y1="1231.7" x2="697" y2="1173.7" stroke="#9a9a9a" stroke-width="1.8" />
<g transform="translate(704.4,1168.5) rotate(-35.2)"><path d="M0,0 L-17,-7 L-13.6,0 L-17,7 Z" fill="#9a9a9a"/></g>
<rect x="511.7" y="1231.7" width="119.6" height="92.4" stroke="#9a9a9a" stroke-width="1.8" fill="none" />
<rect x="525.5" y="1246.5" width="92" height="48" stroke="#3a2f2d" stroke-width="1" fill="none" />
<line x1="525.3" y1="1250.5" x2="617.6" y2="1250.5" stroke="#3a2f2d" stroke-width="1" />
<line x1="525.3" y1="1276.5" x2="617.6" y2="1276.5" stroke="#9a9a9a" stroke-width="1" />
<line x1="525.3" y1="1280.5" x2="617.6" y2="1280.5" stroke="#3a2f2d" stroke-width="1" />
<line x1="554.5" y1="1246.6" x2="554.5" y2="1280.5" stroke="#3a2f2d" stroke-width="1" />
<line x1="583.5" y1="1246.6" x2="583.5" y2="1280.5" stroke="#3a2f2d" stroke-width="1" />
<text x="528.1" y="1273.2" font-size="22.6" fill="#3a2f2d" text-anchor="start" textLength="24.4" lengthAdjust="spacingAndGlyphs" >1C</text>
<text x="556.5" y="1273.2" font-size="22.6" fill="#3a2f2d" text-anchor="start" textLength="24.6" lengthAdjust="spacingAndGlyphs" >1B</text>
<text x="585.5" y="1273.2" font-size="22.6" fill="#3a2f2d" text-anchor="start" textLength="27.6" lengthAdjust="spacingAndGlyphs" >1A</text>
<line x1="542.4" y1="1278.3" x2="542.4" y2="1305.6" stroke="#00a0e9" stroke-width="2.6" />
<line x1="571.3" y1="1278.3" x2="571.3" y2="1305.6" stroke="#00a0e9" stroke-width="2.6" />
<line x1="600.1" y1="1278.3" x2="600.1" y2="1305.6" stroke="#e4007f" stroke-width="2.6" />
<text x="923.6" y="885.8" font-size="21" fill="#231815" text-anchor="start" textLength="65.5" lengthAdjust="spacing" >三线制</text>
<text x="999.3" y="885.2" font-size="20.4" fill="#231815" text-anchor="start" textLength="54.6" lengthAdjust="spacingAndGlyphs" >PT100</text>
<path d="M997.4,1040.5 L997.4,1250 Q998,1252 1002,1251.5 L1008.6,1250.5 Q1012,1252.5 1015.6,1252.7 Q1021,1253 1023.8,1250 L1023.8,1040.5" stroke="#3a2f2d" stroke-width="1" fill="none" />
<line x1="1002.5" y1="993.7" x2="1002.5" y2="1251.2" stroke="#6a5f5c" stroke-width="1" />
<line x1="1008.5" y1="988.5" x2="1008.5" y2="1250.5" stroke="#3a2f2d" stroke-width="1" />
<line x1="1015.5" y1="993.7" x2="1015.5" y2="1252.7" stroke="#3a2f2d" stroke-width="1" />
<path d="M997.4,1259 Q998,1256.5 1002,1256.2 L1008.6,1256.8 Q1012,1258.5 1015.6,1258.7 L1021,1257 Q1023.8,1257 1023.8,1259.5 L1023.8,1344 A13.2,12.5 0 0 1 997.4,1344 Z" stroke="#3a2f2d" stroke-width="1" fill="none" />
<line x1="1002.5" y1="1256.2" x2="1002.5" y2="1345.4" stroke="#6a5f5c" stroke-width="1" />
<line x1="1008.5" y1="1256.8" x2="1008.5" y2="1345.4" stroke="#3a2f2d" stroke-width="1" />
<path d="M1015.6,1258.7 L1015.6,1320.5 L1018.8,1322.5 L1013.2,1326 L1018.8,1329.5 L1013.2,1333 L1018.8,1336.5 L1015.6,1338.5 L1015.6,1345.4 L1004.5,1345.4 Q1002.8,1345.4 1002.8,1343.5" stroke="#3a2f2d" stroke-width="1" fill="none" />
<path d="M972,997.4 L989.2,1015.2 M1052.1,997.4 L1035.5,1015.2 M985.2,997.4 L992.9,1015.2 M1029.6,997.4 L1022.2,1015.2" stroke="#3a2f2d" stroke-width="1" fill="none" />
<rect x="989.5" y="1015.5" width="46" height="25" stroke="#3a2f2d" stroke-width="1" fill="none" />
<line x1="993.5" y1="1015.2" x2="993.5" y2="1040.5" stroke="#3a2f2d" stroke-width="1" />
<line x1="1021.5" y1="1015.2" x2="1021.5" y2="1040.5" stroke="#3a2f2d" stroke-width="1" />
<rect x="1025.5" y="1019.5" width="10" height="17" stroke="#3a2f2d" stroke-width="1" fill="none" />
<circle cx="1028.5" cy="1028" r="2.2" stroke="#3a2f2d" stroke-width="1.2" fill="none"/>
<path d="M992,985 L1002.8,993.7 L1002.8,1015.2 M1006.8,985 L1008.6,988.5 L1008.6,1015.2 M1023,985 L1015.6,993.7 L1015.6,1015.2" stroke="#3a2f2d" stroke-width="1" fill="none" />
<path d="M972.4,929.5 C977,945 977.5,965 972.4,982 L972.3,997.4 L1052.2,997.4 L1052.2,981.5" stroke="#3a2f2d" stroke-width="1" fill="none" />
<path d="M973,943.5 L931.6,943.5 L931.6,981 L972.4,981" stroke="#3a2f2d" stroke-width="1" fill="none" />
<rect x="938.5" y="938.5" width="34" height="5" stroke="#3a2f2d" stroke-width="1" fill="none" />
<rect x="918.6" y="944.2" width="11" height="36.1" stroke="#3a2f2d" stroke-width="1" fill="#fff" rx="3.5" />
<line x1="918.8" y1="953.5" x2="929.4" y2="953.5" stroke="#3a2f2d" stroke-width="1" />
<line x1="918.8" y1="971.5" x2="929.4" y2="971.5" stroke="#3a2f2d" stroke-width="1" />
<line x1="929.6" y1="953.5" x2="931.6" y2="953.5" stroke="#3a2f2d" stroke-width="1" />
<line x1="929.6" y1="971.5" x2="931.6" y2="971.5" stroke="#3a2f2d" stroke-width="1" />
<path d="M938.8,937.3 Q939,930.5 946.3,930.3 Q953.6,930.5 953.9,937.3" stroke="#3a2f2d" stroke-width="1" fill="#fff" />
<path d="M943.5,931.5 L946.5,935.8 L949.5,931.5" stroke="#3a2f2d" stroke-width="0.9" fill="none" />
<line x1="937" y1="937.6" x2="954.8" y2="937.6" stroke="#3a2f2d" stroke-width="1.8" />
<line x1="928.4" y1="927.9" x2="938.4" y2="937.4" stroke="#3a2f2d" stroke-width="1.1" />
<circle cx="928.4" cy="927.9" r="4.2" stroke="#3a2f2d" stroke-width="1" fill="none"/>
<circle cx="928.4" cy="927.9" r="2" stroke="#3a2f2d" stroke-width="1" fill="none"/>
<path d="M922.6,928.5 L917,928.5 Q909.4,928.5 909.4,920 L909.4,915 Q909.4,906.3 918,906.3 L999.5,906.3" stroke="#3a2f2d" stroke-width="1.5" fill="none" stroke-dasharray="0.1 4.4" stroke-linecap="round"/>
<circle cx="873" cy="917.4" r="0.8" fill="#777"/>
<g transform="translate(960.6,921.1) rotate(33.86)">
<path d="M9.4,-14.3 Q11,-22.6 20,-22.6 L104,-22.6 Q113,-22.6 115,-14.3" stroke="#3a2f2d" stroke-width="1" fill="#fff" />
<path d="M15,-18 Q17,-25.5 27,-25.5 L100,-25.5 Q110,-25.5 112,-18" stroke="#3a2f2d" stroke-width="1" fill="none" />
<rect x="44" y="-30.5" width="16" height="5" stroke="#3a2f2d" stroke-width="1" fill="#fff" />
<rect x="66" y="-32" width="15" height="6.5" stroke="#3a2f2d" stroke-width="1" fill="#fff" />
<rect x="0" y="-14.4" width="123.8" height="14.4" stroke="#3a2f2d" stroke-width="1" fill="#fff" />
<line x1="4.5" y1="0" x2="4.5" y2="-12.2" stroke="#3a2f2d" stroke-width="1" />
<line x1="12.5" y1="0" x2="12.5" y2="-12.2" stroke="#3a2f2d" stroke-width="1" />
<line x1="24.5" y1="0" x2="24.5" y2="-12.2" stroke="#3a2f2d" stroke-width="1" />
<line x1="38.5" y1="0" x2="38.5" y2="-12.2" stroke="#3a2f2d" stroke-width="1" />
<line x1="53.5" y1="0" x2="53.5" y2="-12.2" stroke="#3a2f2d" stroke-width="1" />
<line x1="70.5" y1="0" x2="70.5" y2="-12.2" stroke="#3a2f2d" stroke-width="1" />
<line x1="85.5" y1="0" x2="85.5" y2="-12.2" stroke="#3a2f2d" stroke-width="1" />
<line x1="99.5" y1="0" x2="99.5" y2="-12.2" stroke="#3a2f2d" stroke-width="1" />
<line x1="111.5" y1="0" x2="111.5" y2="-12.2" stroke="#3a2f2d" stroke-width="1" />
<line x1="119.5" y1="0" x2="119.5" y2="-12.2" stroke="#3a2f2d" stroke-width="1" />
<line x1="4.3" y1="-12.5" x2="12.6" y2="-12.5" stroke="#3a2f2d" stroke-width="1" />
<line x1="24" y1="-12.5" x2="38.3" y2="-12.5" stroke="#3a2f2d" stroke-width="1" />
<line x1="53.5" y1="-12.5" x2="70.1" y2="-12.5" stroke="#3a2f2d" stroke-width="1" />
<line x1="85.7" y1="-12.5" x2="99.7" y2="-12.5" stroke="#3a2f2d" stroke-width="1" />
<line x1="111.3" y1="-12.5" x2="119.6" y2="-12.5" stroke="#3a2f2d" stroke-width="1" />
<path d="M12.6,-12.2 Q13.0,-14.1 15.1,-14.1 L19,-14.1 Q23.7,-14.1 24,-11.6" stroke="#3a2f2d" stroke-width="1" fill="none" />
<path d="M38.3,-12.2 Q38.699999999999996,-14.1 40.8,-14.1 L48.5,-14.1 Q53.2,-14.1 53.5,-11.6" stroke="#3a2f2d" stroke-width="1" fill="none" />
<path d="M70.1,-12.2 Q70.5,-14.1 72.6,-14.1 L80.7,-14.1 Q85.4,-14.1 85.7,-11.6" stroke="#3a2f2d" stroke-width="1" fill="none" />
<path d="M99.7,-12.2 Q100.10000000000001,-14.1 102.2,-14.1 L106.3,-14.1 Q111.0,-14.1 111.3,-11.6" stroke="#3a2f2d" stroke-width="1" fill="none" />
</g>
<path d="M1016,917 Q1016.5,910.5 1022.5,911.5 Q1028.5,913 1029,920" stroke="#3a2f2d" stroke-width="1" fill="#fff" />
<path d="M1019.5,912.5 L1022,918 L1025.5,914.8" stroke="#3a2f2d" stroke-width="0.9" fill="none" />
<line x1="1013.8" y1="916.8" x2="1028.2" y2="925.2" stroke="#3a2f2d" stroke-width="1.8" />
<line x1="1003.9" y1="905.9" x2="1012.8" y2="917.2" stroke="#3a2f2d" stroke-width="1.1" />
<circle cx="1003.9" cy="905.9" r="4.4" stroke="#3a2f2d" stroke-width="1" fill="#fff"/>
<circle cx="1003.9" cy="905.9" r="2" stroke="#3a2f2d" stroke-width="1" fill="none"/>
<polyline points="727.6,1144.8 727.6,1271.7 867.5,1271.7 867.5,972.6 986.3,972.2 992,984.4" stroke="#00a0e9" stroke-width="2.8" fill="none" stroke-linejoin="miter" stroke-linecap="butt"/>
<polyline points="743.7,1144.8 743.7,1250 857,1250 857,964 995.5,962.8 1006.8,985.1" stroke="#00a0e9" stroke-width="2.8" fill="none" stroke-linejoin="miter" stroke-linecap="butt"/>
<polyline points="758.5,1144.8 758.5,1230 843.3,1230 843.3,956.5 1005.1,955.6 1023.1,985.1" stroke="#e4007f" stroke-width="2.8" fill="none" stroke-linejoin="miter" stroke-linecap="butt"/>
<circle cx="992.1" cy="985.1" r="3.1" fill="#231815"/>
<circle cx="1006.8" cy="985.1" r="3.1" fill="#231815"/>
<circle cx="1023.1" cy="985.1" r="3.1" fill="#231815"/>
</svg>
</body></html>
